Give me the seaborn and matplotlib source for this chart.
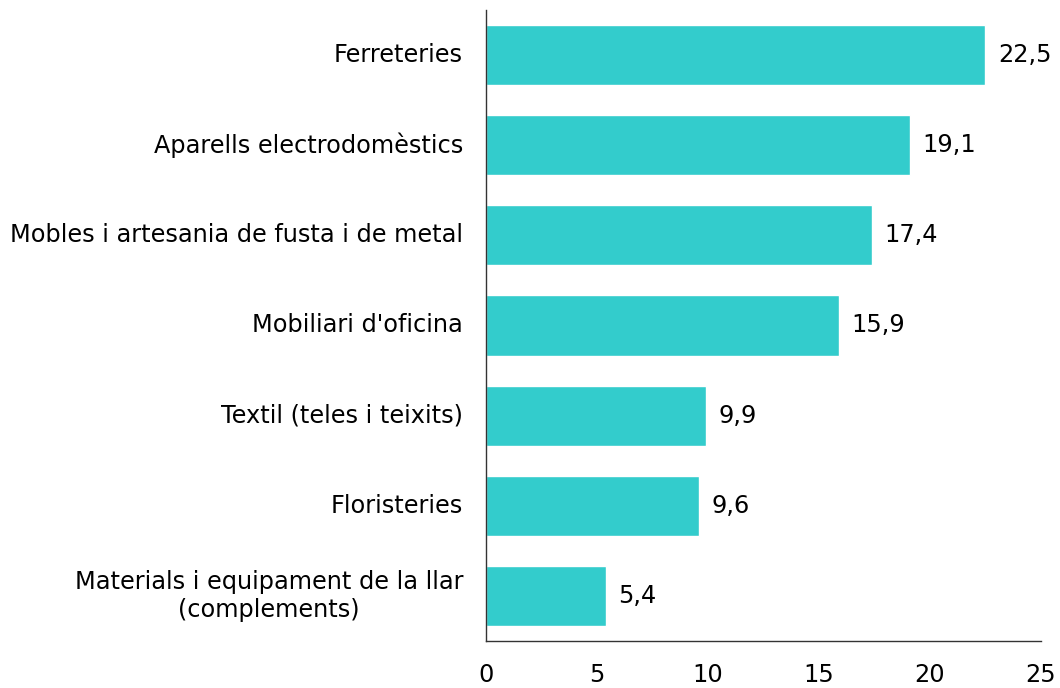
import matplotlib
matplotlib.use("Agg")
import matplotlib.pyplot as plt
import seaborn as sns
import pandas as pd

categories = [
    "Ferreteries",
    "Aparells electrodomèstics",
    "Mobles i artesania de fusta i de metal",
    "Mobiliari d'oficina",
    "Textil (teles i teixits)",
    "Floristeries",
    "Materials i equipament de la llar\n(complements)",
]
values = [22.5, 19.1, 17.4, 15.9, 9.9, 9.6, 5.4]
xticks = [0, 5, 10, 15, 20, 25]

df = pd.DataFrame({"cat": categories, "val": values})

sns.set_style("white")
plt.rcParams["font.family"] = ["DejaVu Sans"]
fs = 17.3

fig = plt.figure(figsize=(10.6, 6.88), dpi=100)
ax = fig.add_axes([0.4585, 0.0683, 0.5235, 0.9172])

sns.barplot(data=df, x="val", y="cat", color="#33CCCC", saturation=1,
            width=0.667, ax=ax)

for i, v in enumerate(values):
    ax.annotate(f"{v:.1f}".replace(".", ","), xy=(v, i), xytext=(9, 0),
                textcoords="offset points", va="center", ha="left",
                fontsize=fs, color="black")

ax.set_xlim(0, 25)
ax.set_ylim(6.5, -0.5)
ax.set_xticks(xticks)
ax.set_xticklabels([str(t) for t in xticks], fontsize=fs, color="black")
ax.tick_params(axis="x", length=0, pad=16)
ax.tick_params(axis="y", length=0, pad=16.5, labelsize=fs, labelcolor="black")
for lab in ax.get_yticklabels():
    lab.set_multialignment("center")
    lab.set_verticalalignment("center")
ax.set_xlabel("")
ax.set_ylabel("")
for s in ["top", "right"]:
    ax.spines[s].set_visible(False)
for s in ["left", "bottom"]:
    ax.spines[s].set_color("#333333")
    ax.spines[s].set_linewidth(1)

fig.savefig("out.png", dpi=100)
